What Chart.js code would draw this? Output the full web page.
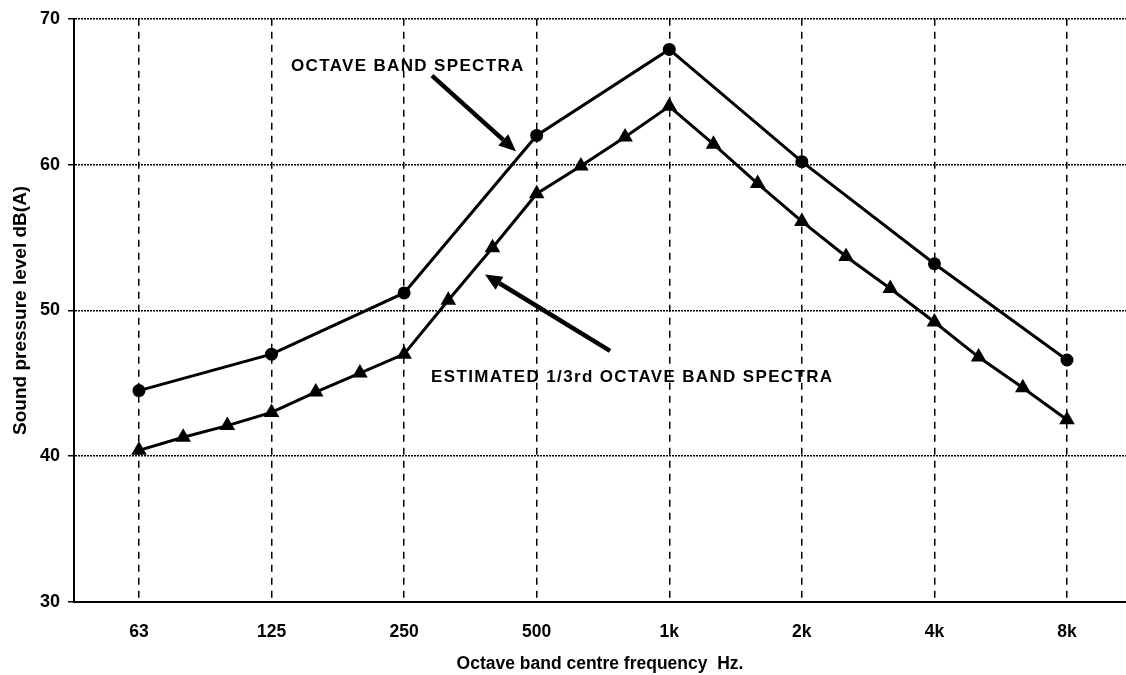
<!DOCTYPE html>
<html>
<head>
<meta charset="utf-8">
<script src="https://cdn.jsdelivr.net/npm/chart.js@4.4.1/dist/chart.umd.min.js"></script>
<style>
  html, body { margin: 0; padding: 0; background: #fff; }
  #wrap { width: 1126px; height: 675px; }
</style>
</head>
<body>
<div id="wrap"><canvas id="spl"></canvas></div>
<script>
// 1/3 octave band centres - the x axis runs on band index (log frequency)
const thirdOctaveBands = ["63", "80", "100", "125", "160", "200", "250", "315", "400", "500", "630", "800",
                          "1k", "1.25k", "1.6k", "2k", "2.5k", "3.15k", "4k", "5k", "6.3k", "8k"];
const octaveBands = ["63", "125", "250", "500", "1k", "2k", "4k", "8k"];

// dB(A) levels
const octaveLevels = [44.5, 47.0, 51.2, 62.0, 67.9, 60.2, 53.2, 46.6];
const thirdOctaveLevels = [40.4, 41.3, 42.1, 43.0, 44.4, 45.7, 47.0, 50.7, 54.3, 58.0, 59.9, 61.9,
                           64.0, 61.4, 58.7, 56.1, 53.7, 51.5, 49.2, 46.8, 44.7, 42.5];
const yTicks = [30, 40, 50, 60, 70];

const FONT = "'Liberation Sans', Arial, sans-serif";
const INK = "#000";

const bandIndex = (b) => thirdOctaveBands.indexOf(b);
const octaveTickValues = octaveBands.map(bandIndex);

const octavePoints = octaveBands.map((b, i) => ({ x: bandIndex(b), y: octaveLevels[i] }));
const thirdPoints = thirdOctaveBands.map((b, i) => ({ x: i, y: thirdOctaveLevels[i] }));

// callout labels + arrows, placed in data units (band index, dB)
const callouts = [
  { text: "OCTAVE BAND SPECTRA", at: [3.44, 66.45], from: [6.63, 66.1], to: [8.53, 60.92] },
  { text: "ESTIMATED 1/3rd OCTAVE BAND SPECTRA", at: [6.61, 45.1], from: [10.66, 47.22], to: [7.83, 52.47] },
];

function drawArrow(ctx, x1, y1, x2, y2) {
  const ang = Math.atan2(y2 - y1, x2 - x1);
  const head = 17, half = 7.5;
  const bx = x2 - head * Math.cos(ang);
  const by = y2 - head * Math.sin(ang);
  ctx.beginPath();
  ctx.moveTo(x1, y1);
  ctx.lineTo(bx, by);
  ctx.lineWidth = 4.5;
  ctx.stroke();
  ctx.beginPath();
  ctx.moveTo(x2, y2);
  ctx.lineTo(bx + half * Math.sin(ang), by - half * Math.cos(ang));
  ctx.lineTo(bx - half * Math.sin(ang), by + half * Math.cos(ang));
  ctx.closePath();
  ctx.fill();
}

const calloutPlugin = {
  id: "callouts",
  afterDatasetsDraw(chart) {
    const { ctx, scales: { x, y } } = chart;
    ctx.save();
    ctx.fillStyle = INK;
    ctx.strokeStyle = INK;
    ctx.font = "bold 17px " + FONT;
    ctx.letterSpacing = "1.35px";
    ctx.textAlign = "left";
    ctx.textBaseline = "alphabetic";
    callouts.forEach((c) => {
      ctx.fillText(c.text, x.getPixelForValue(c.at[0]), y.getPixelForValue(c.at[1]));
      drawArrow(ctx,
        x.getPixelForValue(c.from[0]), y.getPixelForValue(c.from[1]),
        x.getPixelForValue(c.to[0]), y.getPixelForValue(c.to[1]));
    });
    ctx.restore();
  },
};

const whiteBg = {
  id: "whiteBg",
  beforeDraw(chart) {
    const { ctx, width, height } = chart;
    ctx.save();
    ctx.fillStyle = "#fff";
    ctx.fillRect(0, 0, width, height);
    ctx.restore();
  },
};

new Chart(document.getElementById("spl"), {
  type: "line",
  data: {
    datasets: [
      {
        label: "Octave band spectra",
        data: octavePoints,
        borderColor: INK,
        backgroundColor: INK,
        borderWidth: 3,
        pointStyle: "circle",
        pointRadius: 6.5,
        pointBorderWidth: 0,
        tension: 0,
      },
      {
        label: "Estimated 1/3rd octave band spectra",
        data: thirdPoints,
        borderColor: INK,
        backgroundColor: INK,
        borderWidth: 3,
        pointStyle: "triangle",
        pointRadius: 9,
        pointBorderWidth: 0,
        tension: 0,
      },
    ],
  },
  options: {
    responsive: true,
    maintainAspectRatio: false,
    animation: false,
    layout: { autoPadding: false, padding: { top: 15, right: 0, bottom: 0, left: 0 } },
    plugins: {
      legend: { display: false },
      tooltip: { enabled: false },
    },
    scales: {
      x: {
        type: "linear",
        min: -1.47,
        max: 22.335,
        afterBuildTicks: (s) => { s.ticks = octaveTickValues.map((v) => ({ value: v })); },
        afterFit: (s) => { s.height = 73; },
        grid: { color: INK, lineWidth: 1.5, drawTicks: false },
        border: { display: true, color: INK, width: 2, dash: [7, 6] },
        ticks: {
          color: INK,
          padding: 20,
          maxRotation: 0,
          font: { family: FONT, size: 17.5, weight: "bold" },
          callback: (v) => thirdOctaveBands[v],
        },
        title: {
          display: true,
          text: "Octave band centre frequency  Hz.",
          color: INK,
          font: { family: FONT, size: 17.5, weight: "bold" },
          padding: { top: 0, bottom: 0.5 },
        },
      },
      y: {
        min: 30,
        max: 70,
        afterBuildTicks: (s) => { s.ticks = yTicks.map((v) => ({ value: v })); },
        afterFit: (s) => { s.width = 74; },
        grid: {
          color: INK,
          lineWidth: 1.5,
          drawTicks: true,
          tickLength: 6,
          tickColor: INK,
          tickWidth: 1.5,
          tickBorderDash: [],
        },
        border: { display: true, color: INK, width: 2, dash: [2, 1] },
        ticks: {
          color: INK,
          padding: 8,
          font: { family: FONT, size: 18, weight: "bold" },
        },
        title: {
          display: true,
          text: "Sound pressure level dB(A)",
          color: INK,
          font: { family: FONT, size: 19, weight: "bold" },
          padding: { top: 9.5, bottom: 0 },
        },
      },
    },
  },
  plugins: [whiteBg, calloutPlugin],
});
</script>
</body>
</html>
